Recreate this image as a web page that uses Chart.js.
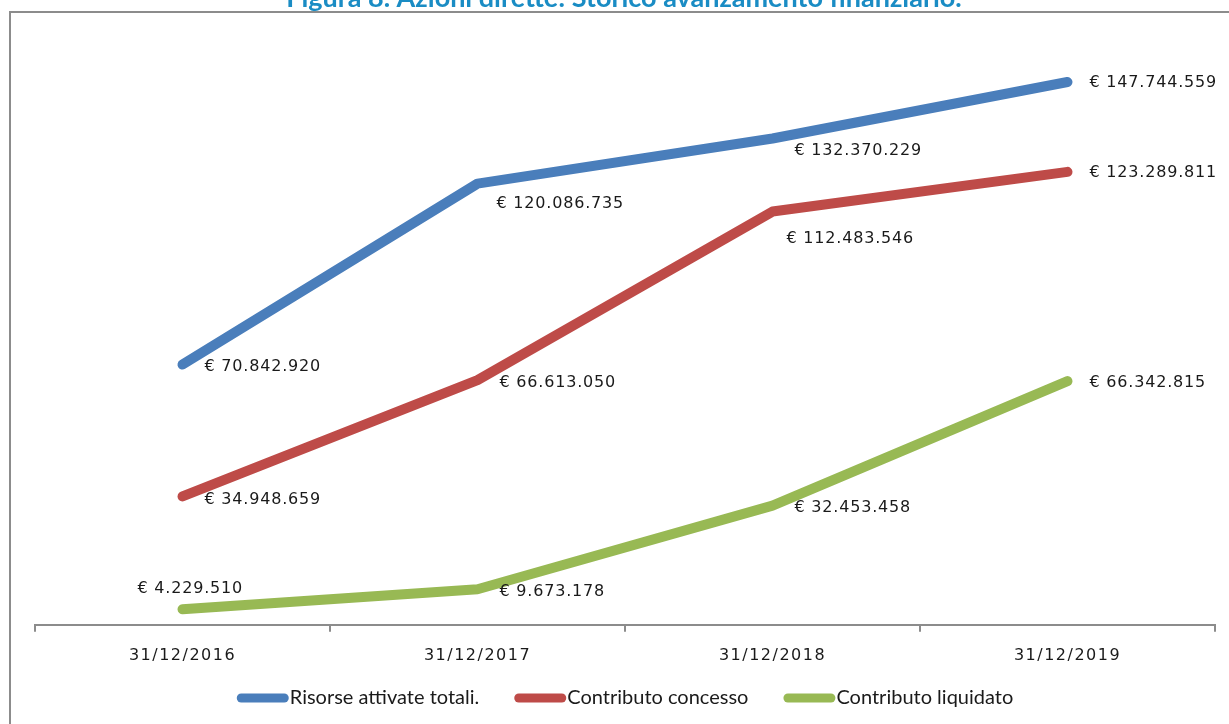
<!DOCTYPE html>
<html>
<head>
<meta charset="utf-8">
<script src="https://cdn.jsdelivr.net/npm/chart.js@4/dist/chart.umd.min.js"></script>
<style>
  html, body { margin: 0; padding: 0; background: #fff; }
  #wrap { width: 1229px; height: 724px; position: relative; }
</style>
</head>
<body>
<div id="wrap"><canvas id="myChart" width="1229" height="724"></canvas></div>
<script>
var categories = ['31/12/2016', '31/12/2017', '31/12/2018', '31/12/2019'];
var risorseAttivate = [70842920, 120086735, 132370229, 147744559];
var contributoConcesso = [34948659, 66613050, 112483546, 123289811];
var contributoLiquidato = [4229510, 9673178, 32453458, 66342815];
var seriesNames = ['Risorse attivate totali.', 'Contributo concesso', 'Contributo liquidato'];
var titleText = 'Figura 8. Azioni dirette: Storico avanzamento finanziario.';

// where each value label sits relative to its point [dx, dy]
var labelOffsets = [
  [[22, 2], [19, 20], [22, 12], [22, 1]],
  [[22, 3], [22, 3], [14, 27], [22, 1]],
  [[-45, -20], [22, 3], [22, 2], [22, 2]]
];

function euro(v) {
  return '€ ' + String(v).replace(/\B(?=(\d{3})+(?!\d))/g, '.');
}

var framePlugin = {
  id: 'frame',
  beforeDraw: function (chart) {
    var ctx = chart.ctx;
    ctx.save();
    ctx.fillStyle = '#fff';
    ctx.fillRect(0, 0, chart.width, chart.height);
    ctx.strokeStyle = '#8c8c8c';
    ctx.lineWidth = 2;
    ctx.beginPath();
    ctx.moveTo(10, chart.height);
    ctx.lineTo(10, 12);
    ctx.lineTo(chart.width, 12);
    ctx.stroke();
    // title, cut off by the top of the page
    ctx.fillStyle = '#1a8cc4';
    ctx.font = 'bold 27px Lato';
    ctx.textAlign = 'center';
    ctx.textBaseline = 'alphabetic';
    ctx.fillText(titleText, 624, 7);
    ctx.restore();
    // wider spacing for the axis labels
    ctx.letterSpacing = '1.5px';
  },
  beforeDatasetsDraw: function (chart) {
    chart.ctx.letterSpacing = '0px';
  }
};

var valueLabels = {
  id: 'valueLabels',
  afterDatasetsDraw: function (chart) {
    var ctx = chart.ctx;
    ctx.save();
    ctx.font = '16px "DejaVu Sans"';
    ctx.letterSpacing = '0.8px';
    ctx.fillStyle = '#1a1a1a';
    ctx.textAlign = 'left';
    ctx.textBaseline = 'middle';
    chart.data.datasets.forEach(function (ds, i) {
      var meta = chart.getDatasetMeta(i);
      meta.data.forEach(function (pt, j) {
        var off = labelOffsets[i][j];
        ctx.fillText(euro(ds.data[j]), pt.x + off[0], pt.y + off[1]);
      });
    });
    ctx.restore();
  }
};

var bottomLegend = {
  id: 'bottomLegend',
  afterDraw: function (chart) {
    var ctx = chart.ctx;
    var area = chart.chartArea;
    var boxW = 52, boxH = 9, gap = 1, itemGap = 35, y = 698;
    ctx.save();
    ctx.letterSpacing = '0px';
    ctx.font = '20px Lato';
    ctx.textBaseline = 'middle';
    ctx.textAlign = 'left';
    var widths = chart.data.datasets.map(function (ds) {
      return boxW + gap + ctx.measureText(ds.label).width;
    });
    var total = widths.reduce(function (a, b) { return a + b; }, 0) + itemGap * (widths.length - 1);
    var x = (area.left + area.right) / 2 - total / 2;
    chart.data.datasets.forEach(function (ds, i) {
      ctx.fillStyle = ds.borderColor;
      ctx.beginPath();
      ctx.roundRect(x, y - boxH / 2, boxW, boxH, boxH / 2);
      ctx.fill();
      ctx.fillStyle = '#1a1a1a';
      ctx.fillText(ds.label, x + boxW + gap, y);
      x += widths[i] + itemGap;
    });
    ctx.restore();
  }
};

function lineSet(label, data, color) {
  return {
    label: label,
    data: data,
    borderColor: color,
    backgroundColor: color,
    borderWidth: 10,
    borderCapStyle: 'round',
    borderJoinStyle: 'round',
    pointRadius: 0,
    pointHoverRadius: 0,
    tension: 0,
    fill: false
  };
}

var ctx = document.getElementById('myChart').getContext('2d');
var chart = new Chart(ctx, {
  type: 'line',
  data: {
    labels: categories,
    datasets: [
      lineSet(seriesNames[0], risorseAttivate, '#4a7ebb'),
      lineSet(seriesNames[1], contributoConcesso, '#be4b48'),
      lineSet(seriesNames[2], contributoLiquidato, '#98b954')
    ]
  },
  options: {
    responsive: false,
    animation: false,
    layout: { padding: { left: 35, right: 14, top: 37, bottom: 45 } },
    plugins: {
      title: { display: false },
      tooltip: { enabled: false },
      legend: { display: false }
    },
    scales: {
      x: {
        offset: true,
        grid: {
          offset: true,
          drawOnChartArea: false,
          drawTicks: true,
          tickLength: 7,
          color: '#8c8c8c',
          lineWidth: 2
        },
        border: { display: true, color: '#8c8c8c', width: 2 },
        ticks: {
          font: { family: 'DejaVu Sans', size: 16 },
          color: '#1a1a1a',
          padding: 14,
          maxRotation: 0
        }
      },
      y: {
        display: false,
        min: 0,
        max: 160000000
      }
    }
  },
  plugins: [framePlugin, valueLabels, bottomLegend]
});
</script>
</body>
</html>
